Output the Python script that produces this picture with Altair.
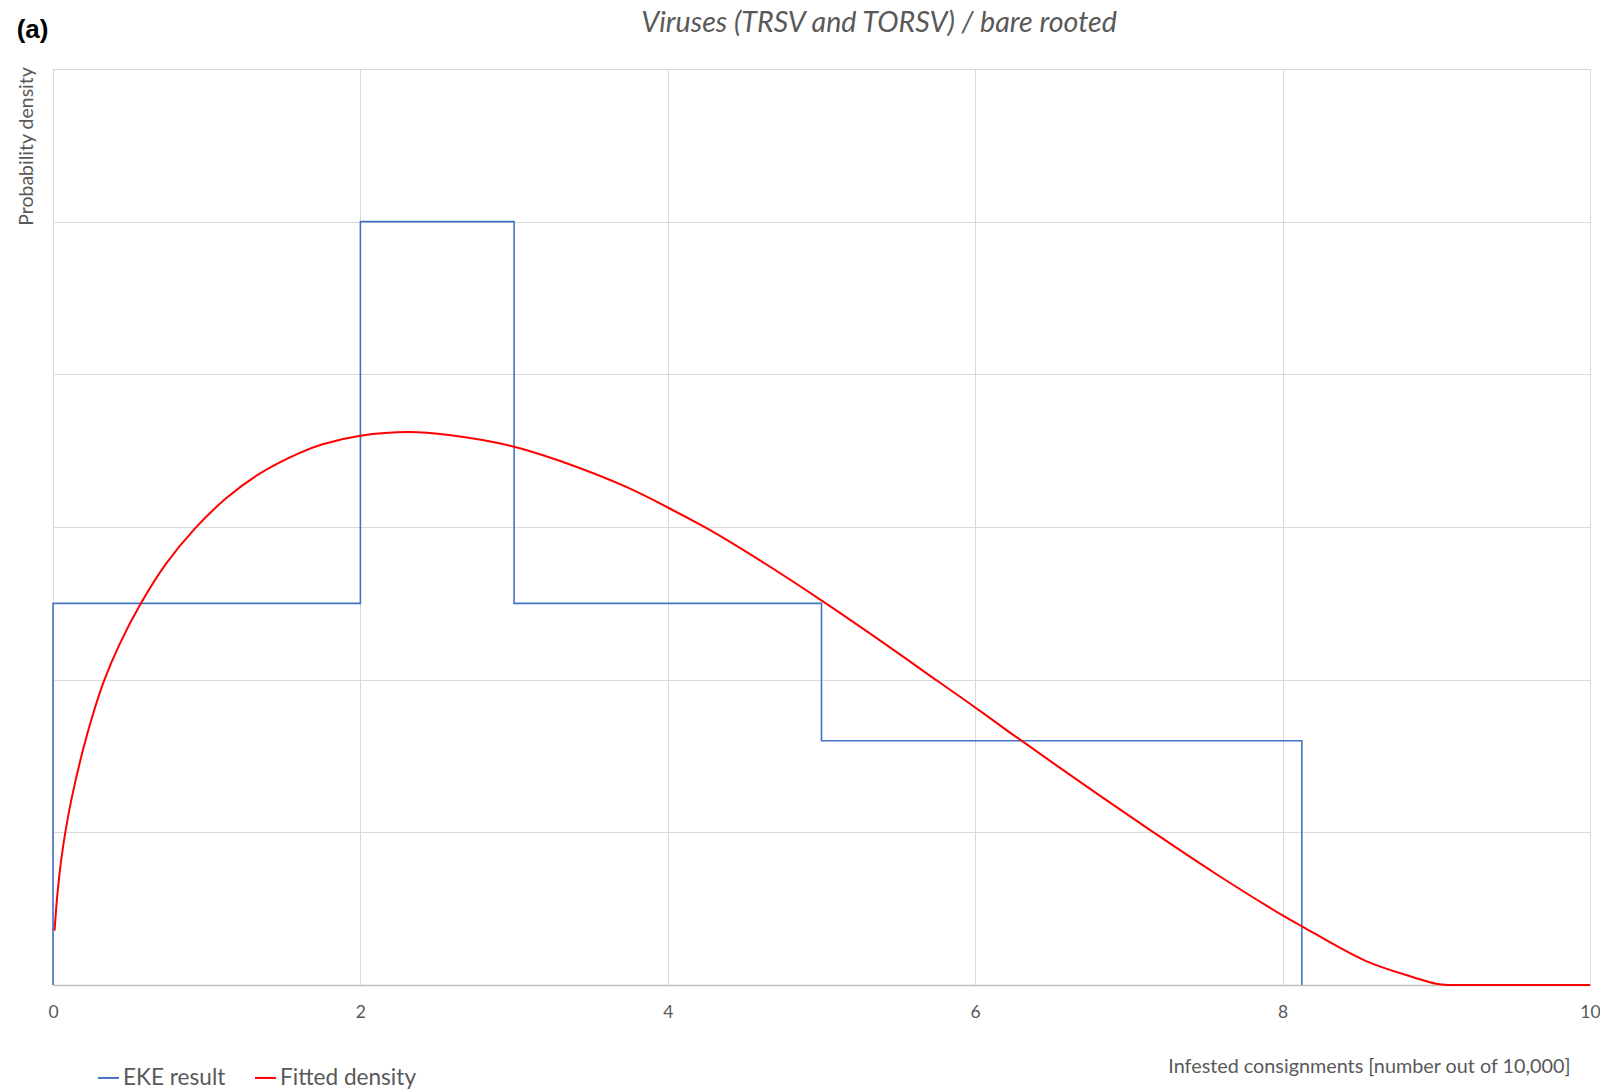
import altair as alt
import pandas as pd

# ---- data ----
eke_edges = [0, 2, 3, 5, 8.125]
eke_density = [0.125, 0.25, 0.125, 0.08]

fit_x = [0.01, 0.03, 0.053, 0.08, 0.122, 0.194, 0.259, 0.335, 0.432, 0.573,
         0.736, 0.92, 1.126, 1.342, 1.602, 1.754, 2.0, 2.317, 2.577, 3.0,
         3.3, 3.726, 4.003, 4.267, 4.592, 5.004, 5.459, 5.762, 6.0, 6.217,
         6.694, 7.16, 7.56, 8.0, 8.12, 8.536, 8.86, 9.0, 9.08, 9.15, 10.0]
fit_y = [0.0178, 0.0305, 0.0408, 0.05, 0.0613, 0.0768, 0.0885, 0.1, 0.1115, 0.1251,
         0.138, 0.1493, 0.1594, 0.1674, 0.1742, 0.1771, 0.1799, 0.1811, 0.1801, 0.1763,
         0.1716, 0.1632, 0.1563, 0.1492, 0.1393, 0.1258, 0.1101, 0.0993, 0.0909, 0.0830,
         0.0661, 0.05, 0.0366, 0.0228, 0.0194, 0.0080, 0.0024, 0.0004, 0.0, 0.0, 0.0]

x_ticks = [0, 2, 4, 6, 8, 10]
y_grid = [0, 0.05, 0.1, 0.15, 0.2, 0.25, 0.3]
series_names = ["EKE result", "Fitted density"]
series_colors = ["#4472C4", "#FF0000"]
title_text = "Viruses (TRSV and TORSV) / bare rooted"
panel_text = "(a)"

# step outline of the EKE histogram (step-after interpolation)
step_x = [eke_edges[0]] + eke_edges
step_y = [0] + eke_density + [0]
eke_df = pd.DataFrame({"x": step_x, "y": step_y, "i": list(range(len(step_x))),
                       "series": series_names[0]})
fit_df = pd.DataFrame({"x": fit_x, "y": fit_y, "i": list(range(len(fit_x))),
                       "series": series_names[1]})

FONT = "Lato"
GRAY = "#595959"

x_scale = alt.Scale(domain=[0, 10], nice=False, zero=False)
y_scale = alt.Scale(domain=[0, 0.3], nice=False)
color_scale = alt.Scale(domain=series_names, range=series_colors)

x_axis = alt.Axis(values=x_ticks, format="d", ticks=False, tickSize=0,
                  labelFont=FONT, labelFontSize=17.5, labelColor=GRAY, labelPadding=18,
                  labelFlush=False, labelOverlap=False,
                  domain=True, domainColor="#BFBFBF", domainWidth=1.5,
                  grid=True, gridColor="#D9D9D9", gridWidth=1,
                  title="Infested consignments [number out of 10,000]",
                  titleFont=FONT, titleFontSize=19.8, titleFontWeight="normal",
                  titleColor=GRAY, titleAlign="right", titleBaseline="alphabetic",
                  titleAnchor="end", titleX=1517, titleY=87.3)

y_axis = alt.Axis(values=y_grid, labels=False, ticks=False, domain=False,
                  grid=True, gridColor="#D9D9D9", gridWidth=1,
                  title="Probability density", titleFont=FONT, titleFontSize=19.5,
                  titleFontWeight="normal", titleColor=GRAY, titleAngle=270,
                  titleAlign="right", titleBaseline="alphabetic",
                  titleX=-20.7, titleY=-2.3)

legend = alt.Legend(orient="none", legendX=44, legendY=997, direction="horizontal",
                    title=None, symbolType="stroke", symbolSize=441,
                    symbolStrokeWidth=2, labelFont=FONT, labelFontSize=22.6,
                    labelColor=GRAY, labelOffset=3, columnPadding=25, padding=0)

eke = alt.Chart(eke_df).mark_line(interpolate="step-after", strokeWidth=1.6).encode(
    x=alt.X("x:Q", scale=x_scale, axis=x_axis),
    y=alt.Y("y:Q", scale=y_scale, axis=y_axis),
    order="i:Q",
    color=alt.Color("series:N", scale=color_scale, legend=legend),
)

fit = alt.Chart(fit_df).mark_line(interpolate="catmull-rom", strokeWidth=2).encode(
    x=alt.X("x:Q", scale=x_scale),
    y=alt.Y("y:Q", scale=y_scale),
    order="i:Q",
    color=alt.Color("series:N", scale=color_scale, legend=legend),
)

panel = alt.Chart(pd.DataFrame({"t": [panel_text]})).mark_text(
    font="Liberation Sans", fontWeight="bold", fontSize=26, color="black",
    align="left", baseline="alphabetic").encode(
    text="t:N", x=alt.value(-36.3), y=alt.value(-31.5))

title = alt.Chart(pd.DataFrame({"t": [title_text]})).mark_text(
    font=FONT, fontStyle="italic", fontSize=28.6, color=GRAY,
    align="center", baseline="alphabetic").encode(
    text="t:N", x=alt.value(826), y=alt.value(-37.5))

chart = alt.layer(eke, fit, panel, title).properties(
    width=1537, height=916,
    autosize=alt.AutoSizeParams(type="none"),
    padding={"left": 45, "top": 61, "right": 10, "bottom": 105},
).configure_view(stroke=None).configure(background="white")

chart.save("out.html", embed_options={"renderer": "svg", "actions": False})
